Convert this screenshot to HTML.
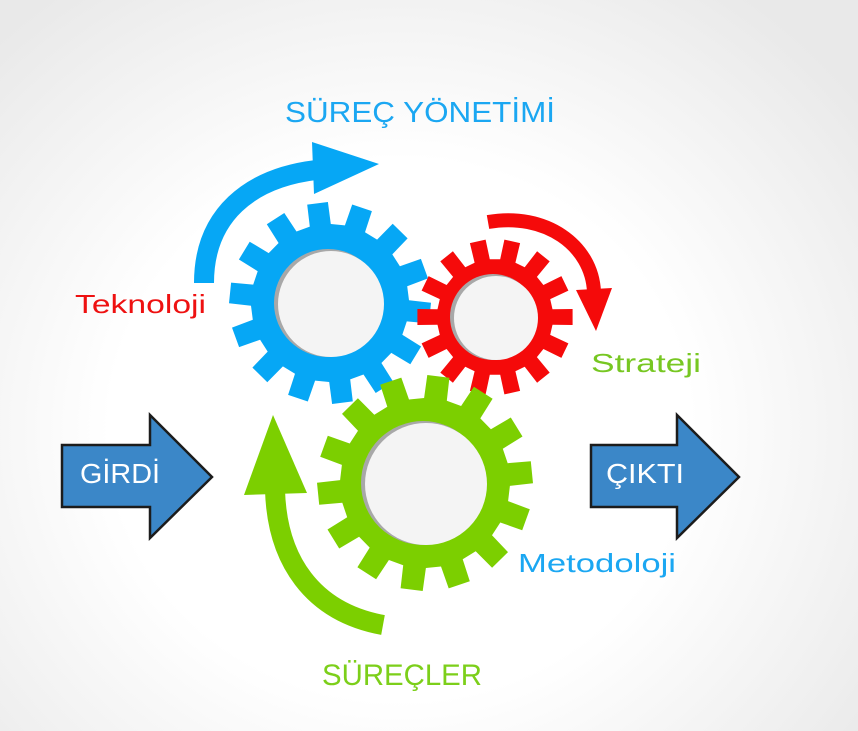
<!DOCTYPE html>
<html><head><meta charset="utf-8"><style>
html,body{margin:0;padding:0}
body{width:858px;height:731px;overflow:hidden;background:radial-gradient(ellipse 580px 540px at 400px 430px,#ffffff 50%,#e9e9e9 100%)}
svg{display:block}
text{font-family:"Liberation Sans","DejaVu Sans",sans-serif}
</style></head><body>
<svg id="s" width="858" height="731" viewBox="0 0 858 731" xmlns="http://www.w3.org/2000/svg">
<g id="gears"></g>
<path d="M204,283 C204,215 250,178 316,170" fill="none" stroke="#06a7f5" stroke-width="20"/>
<polygon points="312,142 379,164 314,194" fill="#06a7f5"/>
<path d="M488,222 C545,212 592,245 594,292" fill="none" stroke="#f50a0a" stroke-width="14"/>
<polygon points="576,290 612,288 596,331" fill="#f50a0a"/>
<path d="M383,625 C312,612 277,560 275,490" fill="none" stroke="#7ccf00" stroke-width="20"/>
<polygon points="244,495 307,493 273,415" fill="#7ccf00"/>
<polygon points="62,445 150,445 150,415 212,477 150,538 150,507 62,507" fill="#3b87c8" stroke="#1c1c1c" stroke-width="2.5"/>
<polygon points="591,445 677,445 677,415 739,477 677,538 677,507 591,507" fill="#3b87c8" stroke="#1c1c1c" stroke-width="2.5"/>
<text x="80" y="483" font-size="28" fill="#fff" textLength="80" lengthAdjust="spacingAndGlyphs">GİRDİ</text>
<text x="606" y="483" font-size="28" fill="#fff" textLength="78" lengthAdjust="spacingAndGlyphs">ÇIKTI</text>
<text x="285" y="122" font-size="29" fill="#1ba7f2" textLength="270" lengthAdjust="spacingAndGlyphs">SÜREÇ YÖNETİMİ</text>
<text x="75" y="313" font-size="26" fill="#ee1111" textLength="131" lengthAdjust="spacingAndGlyphs">Teknoloji</text>
<text x="591" y="372" font-size="26" fill="#77c722" textLength="110" lengthAdjust="spacingAndGlyphs">Strateji</text>
<text x="518" y="572" font-size="26" fill="#1ba7f2" textLength="158" lengthAdjust="spacingAndGlyphs">Metodoloji</text>
<text x="322" y="685" font-size="30" fill="#7ccf1a" textLength="160" lengthAdjust="spacingAndGlyphs">SÜREÇLER</text>
</svg>
<script>
function gear(cx,cy,ro,ri,n,col,hr,rot){
  var pts=[],step=2*Math.PI/n;
  for(var i=0;i<n;i++){
    var a=rot+i*step;
    var seq=[[-0.3,ri],[-0.23,ro],[0.23,ro],[0.3,ri]];
    seq.forEach(function(p){var ang=a+p[0]*step;pts.push((cx+p[1]*Math.cos(ang)).toFixed(1)+","+(cy+p[1]*Math.sin(ang)).toFixed(1));});
  }
  var g=document.getElementById('gears');
  var ns="http://www.w3.org/2000/svg";
  var p=document.createElementNS(ns,'polygon');p.setAttribute('points',pts.join(' '));p.setAttribute('fill',col);g.appendChild(p);
  var sh=document.createElementNS(ns,'circle');sh.setAttribute('cx',cx-2);sh.setAttribute('cy',cy);sh.setAttribute('r',hr);sh.setAttribute('fill','#a8a8a8');g.appendChild(sh);
  var c=document.createElementNS(ns,'circle');c.setAttribute('cx',cx+1);c.setAttribute('cy',cy+1);c.setAttribute('r',hr-1);c.setAttribute('fill','#f4f4f4');g.appendChild(c);
}
gear(330,303,101,79,14,'#06a7f5',54,0.1);
gear(495,317,78,58,14,'#f50a0a',43,0.0);
gear(425,483,108,85,14,'#7ccf00',62,-0.1);
</script>
</body></html>
